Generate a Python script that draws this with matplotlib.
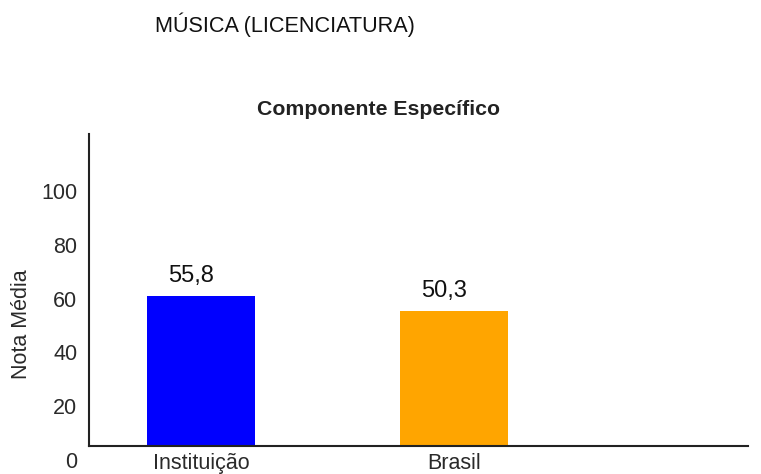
import matplotlib
matplotlib.use('Agg')
import matplotlib.pyplot as plt
import matplotlib.transforms as mtransforms

plt.rcParams['font.family'] = ['Liberation Sans', 'DejaVu Sans']

curso = 'MÚSICA (LICENCIATURA)'
titulo = 'Componente Específico'
categorias = ['Instituição', 'Brasil']
notas = [55.8, 50.3]
rotulos = ['55,8', '50,3']
cores = ['#0000FF', '#FFA500']
yticks = [0, 20, 40, 60, 80, 100]

fig = plt.figure(figsize=(7.61, 4.74), dpi=100)
ax = fig.add_axes([0.117, 0.059, 0.866, 0.658])

x = range(len(categorias))
ax.bar(x, notas, width=0.427, color=cores)

for xi, v, r in zip(x, notas, rotulos):
    ax.annotate(r, (xi, v), xytext=(-7, 14.4), textcoords='offset points',
                ha='center', va='center', fontsize=17, color='#111111')

ax.set_xlim(-0.443, 2.162)
ax.set_ylim(0, 116)
ax.set_xticks(list(x))
ax.set_xticklabels(categorias)
ax.set_yticks(yticks)
ax.tick_params(axis='both', length=0, labelsize=15.5, colors='#2a2a2a')
ax.tick_params(axis='x', pad=5)
ax.tick_params(axis='y', pad=8.5)

# os rótulos do eixo y ficam deslocados para baixo no original
desloc = mtransforms.ScaledTranslation(0, -0.14, fig.dpi_scale_trans)
for lab in ax.get_yticklabels():
    lab.set_transform(lab.get_transform() + desloc)

ax.set_ylabel('Nota Média', fontsize=15.5, color='#2a2a2a')
ax.yaxis.set_label_coords(-0.087, 0.39)

for s in ['top', 'right']:
    ax.spines[s].set_visible(False)
for s in ['left', 'bottom']:
    ax.spines[s].set_linewidth(1.5)
    ax.spines[s].set_color('#222222')

fig.text(0.204, 0.947, curso, fontsize=15.6, color='#111111', ha='left', va='center')
fig.text(0.497, 0.768, titulo, fontsize=15.3, fontweight='bold', color='#222222',
         ha='center', va='center')

fig.savefig('out.png', dpi=100)
